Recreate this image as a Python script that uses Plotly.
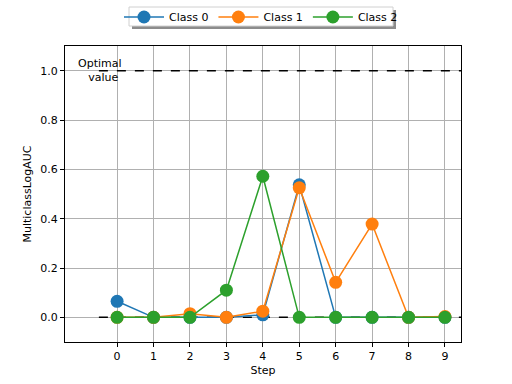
import plotly.graph_objects as go

steps = [0, 1, 2, 3, 4, 5, 6, 7, 8, 9]
class0 = [0.065, 0.0, 0.0, 0.0, 0.01, 0.537, 0.0, 0.0, 0.0, 0.0]
class1 = [0.0, 0.0, 0.015, 0.0, 0.025, 0.525, 0.142, 0.378, 0.0, 0.003]
class2 = [0.0, 0.0, 0.0, 0.11, 0.572, 0.0, 0.0, 0.0, 0.0, 0.0]
names = ["Class 0", "Class 1", "Class 2"]
colors = ["#1f77b4", "#ff7f0e", "#2ca02c"]
optimal_value = 1.0
baseline_value = 0.0
ref_x = [-0.5, 9.5]

W, H = 512, 384
ML, MR, MT, MB = 65, 51, 46, 42
PW, PH = W - ML - MR, H - MT - MB


def px(x):
    return (x - ML) / PW


def py(y):
    return (H - MB - y) / PH


fig = go.Figure()
for yv in [optimal_value, baseline_value]:
    fig.add_trace(go.Scatter(x=ref_x, y=[yv, yv], mode="lines",
                             line=dict(color="black", width=1.5, dash="dash"),
                             showlegend=False, hoverinfo="skip"))
for name, vals, c in zip(names, [class0, class1, class2], colors):
    fig.add_trace(go.Scatter(x=steps, y=vals, mode="lines+markers", name=name,
                             line=dict(color=c, width=1.5),
                             marker=dict(color=c, size=13)))

fig.add_annotation(x=-0.48, y=optimal_value, text="Optimal<br>  value", showarrow=False,
                   xref="x", yref="y", font=dict(size=11, color="black"),
                   align="center", yanchor="middle", xanchor="center")

# legend frame with shadow
fig.add_shape(type="rect", xref="paper", yref="paper",
              x0=px(132), x1=px(396), y0=py(29), y1=py(10),
              fillcolor="#8c8c8c", line=dict(width=0), layer="above")
fig.add_shape(type="rect", xref="paper", yref="paper",
              x0=px(129), x1=px(393), y0=py(26), y1=py(7),
              fillcolor="white", line=dict(width=1, color="#d0d0d0"), layer="above")

axis_common = dict(showgrid=True, gridcolor="#b0b0b0", gridwidth=1,
                   showline=True, linecolor="black", linewidth=1, mirror=True,
                   ticks="outside", ticklen=4, tickcolor="black", automargin=False,
                   zeroline=False, tickfont=dict(size=11, color="black"))

fig.update_layout(
    width=W, height=H,
    margin=dict(l=ML, r=MR, t=MT, b=MB),
    paper_bgcolor="white", plot_bgcolor="white",
    font=dict(family="DejaVu Sans", size=11, color="black"),
    legend=dict(orientation="h", x=261 / W, xanchor="center", y=1 - 17 / H, yanchor="middle",
                xref="container", yref="container",
                bgcolor="rgba(0,0,0,0)", borderwidth=0,
                font=dict(size=11), itemwidth=40),
    xaxis=dict(range=[-1.43, 9.44], tickvals=steps, title=dict(text="Step", standoff=4, font=dict(size=11)),
               **axis_common),
    yaxis=dict(range=[-0.1, 1.1], tickvals=[0, 0.2, 0.4, 0.6, 0.8, 1.0], tickformat=".1f",
               title=dict(text="MulticlassLogAUC", standoff=6, font=dict(size=11)),
               **axis_common),
)

fig.write_html("out.html", config={"displayModeBar": False},
               post_script="document.body.style.margin='0';")
